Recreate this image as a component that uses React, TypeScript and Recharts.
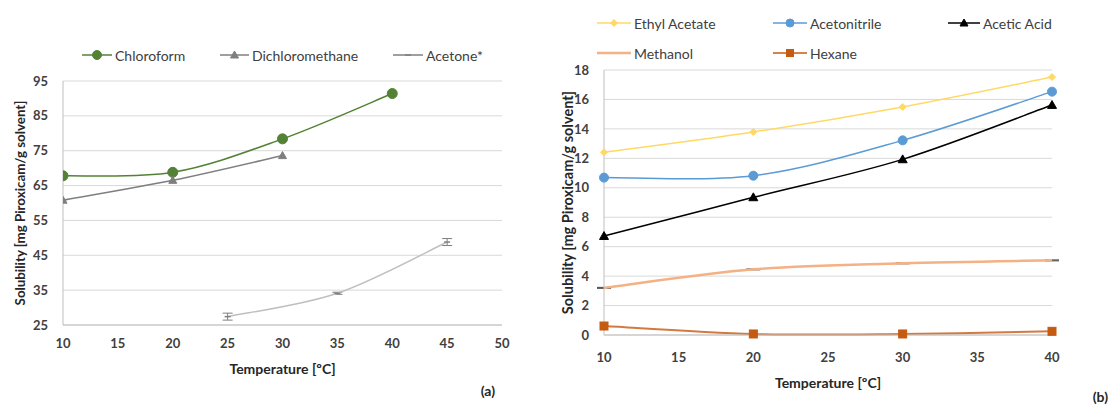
import React from 'react';
import { LineChart, Line, XAxis, YAxis, CartesianGrid, ErrorBar } from 'recharts';

// ---- (a) chlorinated solvents + acetone ----
const chloroformT = [10, 20, 30, 40];
const chloroform = [67.8, 68.8, 78.4, 91.4];
const dcmT = [10, 20, 30];
const dcm = [60.8, 66.5, 73.6];
const acetoneT = [25, 35, 45];
const acetone = [27.4, 34.1, 48.8];
const acetoneErr = [1.0, 0.3, 1.0];
const ticksA_x = [10, 15, 20, 25, 30, 35, 40, 45, 50];
const ticksA_y = [25, 35, 45, 55, 65, 75, 85, 95];

// ---- (b) other solvents ----
const tempsB = [10, 20, 30, 40];
const ethylAcetate = [12.41, 13.79, 15.49, 17.52];
const acetonitrile = [10.69, 10.82, 13.22, 16.53];
const aceticAcid = [6.72, 9.35, 11.93, 15.62];
const methanol = [3.2, 4.46, 4.87, 5.07];
const methanolErr = [0.03, 0.03, 0.03, 0.03];
const hexane = [0.61, 0.07, 0.07, 0.25];
const ticksB_x = [10, 15, 20, 25, 30, 35, 40];
const ticksB_y = [0, 2, 4, 6, 8, 10, 12, 14, 16, 18];

const FONT = 'Lato, "Open Sans", sans-serif';
const TICK = '#404040';
const GRID = '#d9d9d9';
const AXIS = '#bfbfbf';

const C = {
  chloroform: '#548235',
  dcm: '#7f7f7f',
  acetone: '#bfbfbf',
  ethyl: '#ffd966',
  acetonitrile: '#5b9bd5',
  acetic: '#000000',
  methanol: '#f4b183',
  hexane: '#c55a11',
  hexaneLine: '#d47a40',
};

const zip = (xs: number[], ys: number[], es?: number[]) =>
  xs.map((x, i) => ({ x, y: ys[i], e: es ? es[i] : 0 }));

const dataChloroform = zip(chloroformT, chloroform);
const dataDcm = zip(dcmT, dcm);
const dataAcetone = zip(acetoneT, acetone, acetoneErr);

const rowsB = tempsB.map((t, i) => ({
  t,
  ethyl: ethylAcetate[i],
  acn: acetonitrile[i],
  acetic: aceticAcid[i],
  meoh: methanol[i],
  meohErr: methanolErr[i],
  hex: hexane[i],
}));

// Smooth spline through the points (Catmull-Rom as cubic Béziers)
const smooth = (context: any) => {
  let pts: number[][] = [];
  return {
    areaStart() {},
    areaEnd() {},
    lineStart() {
      pts = [];
    },
    point(x: number, y: number) {
      pts.push([+x, +y]);
    },
    lineEnd() {
      const n = pts.length;
      if (!n) return;
      context.moveTo(pts[0][0], pts[0][1]);
      for (let i = 0; i < n - 1; i++) {
        const p0 = pts[Math.max(i - 1, 0)];
        const p1 = pts[i];
        const p2 = pts[i + 1];
        const p3 = pts[Math.min(i + 2, n - 1)];
        context.bezierCurveTo(
          p1[0] + (p2[0] - p0[0]) / 6,
          p1[1] + (p2[1] - p0[1]) / 6,
          p2[0] - (p3[0] - p1[0]) / 6,
          p2[1] - (p3[1] - p1[1]) / 6,
          p2[0],
          p2[1]
        );
      }
    },
  };
};

type Kind = 'circle' | 'triangle' | 'diamond' | 'square' | 'dash' | 'none';

function Marker({ kind, cx, cy, s, color }: { kind: Kind; cx: number; cy: number; s: number; color: string }) {
  if (cx == null || cy == null || isNaN(cx) || isNaN(cy)) return <g />;
  switch (kind) {
    case 'circle':
      return <circle cx={cx} cy={cy} r={s} fill={color} stroke={color} />;
    case 'triangle':
      return (
        <polygon
          points={`${cx},${cy - s} ${cx - s},${cy + s * 0.75} ${cx + s},${cy + s * 0.75}`}
          fill={color}
          stroke={color}
        />
      );
    case 'diamond':
      return (
        <polygon points={`${cx},${cy - s} ${cx + s},${cy} ${cx},${cy + s} ${cx - s},${cy}`} fill={color} stroke={color} />
      );
    case 'square':
      return <rect x={cx - s} y={cy - s} width={2 * s} height={2 * s} fill={color} stroke={color} />;
    case 'dash':
      return <line x1={cx - s} y1={cy} x2={cx + s} y2={cy} stroke={color} strokeWidth={1.5} />;
    default:
      return <g />;
  }
}

const dotOf = (kind: Kind, s: number, color: string) => (p: any) =>
  <Marker key={`d-${p.index}`} kind={kind} cx={p.cx} cy={p.cy} s={s} color={color} />;

function YTitle({ viewBox, x0, size }: any) {
  const cy = viewBox.y + viewBox.height / 2;
  return (
    <text
      x={x0}
      y={cy}
      transform={`rotate(-90 ${x0} ${cy})`}
      textAnchor="middle"
      dominantBaseline="central"
      fontFamily={FONT}
      fontWeight={700}
      fontSize={size}
      fill="#262626"
    >
      Solubility [mg Piroxicam/g solvent]
    </text>
  );
}

function XTitle({ viewBox, dy }: any) {
  return (
    <text
      x={viewBox.x + viewBox.width / 2}
      y={viewBox.y + dy}
      textAnchor="middle"
      dominantBaseline="central"
      fontFamily={FONT}
      fontWeight={700}
      fontSize={14}
      fill="#262626"
    >
      Temperature [ºC]
    </text>
  );
}

const tickStyle = { fontFamily: FONT, fontWeight: 700, fontSize: 13, fill: TICK };

type LegendItem = { name: string; kind: Kind; s: number; color: string; x1: number; x2: number; y: number };

const legendItems: LegendItem[] = [
  { name: 'Chloroform', kind: 'circle', s: 4.5, color: C.chloroform, x1: 82, x2: 112, y: 55 },
  { name: 'Dichloromethane', kind: 'triangle', s: 4, color: C.dcm, x1: 220, x2: 249, y: 55 },
  { name: 'Acetone*', kind: 'dash', s: 3, color: '#7f7f7f', x1: 393, x2: 423, y: 55 },
  { name: 'Ethyl Acetate', kind: 'diamond', s: 3.5, color: C.ethyl, x1: 597, x2: 631, y: 23 },
  { name: 'Acetonitrile', kind: 'circle', s: 4, color: C.acetonitrile, x1: 773, x2: 807, y: 23 },
  { name: 'Acetic Acid', kind: 'triangle', s: 4, color: C.acetic, x1: 948, x2: 980, y: 23 },
  { name: 'Methanol', kind: 'none', s: 0, color: C.methanol, x1: 597, x2: 631, y: 53 },
  { name: 'Hexane', kind: 'square', s: 3.5, color: C.hexane, x1: 773, x2: 807, y: 53 },
];

export default function App() {
  return (
    <div style={{ position: 'absolute', left: 0, top: 0, width: 1111, height: 405, background: '#fff', fontFamily: FONT }}>
      {/* (a) */}
      <div style={{ position: 'absolute', left: 0, top: 0 }}>
        <LineChart width={540} height={405} margin={{ top: 81, right: 38, bottom: 50, left: 18 }}>
          <CartesianGrid vertical={false} stroke={GRID} />
          <XAxis
            type="number"
            dataKey="x"
            domain={[10, 50]}
            ticks={ticksA_x}
            allowDataOverflow
            tickLine={false}
            axisLine={{ stroke: AXIS }}
            tick={tickStyle}
            tickMargin={8}
            height={30}
            label={<XTitle dy={43} />}
          />
          <YAxis
            type="number"
            dataKey="y"
            domain={[25, 95]}
            ticks={ticksA_y}
            allowDataOverflow
            tickLine={false}
            axisLine={{ stroke: AXIS }}
            tick={tickStyle}
            tickMargin={9}
            width={45}
            label={<YTitle x0={20} size={13.3} />}
          />
          <Line
            data={dataChloroform}
            dataKey="y"
            type={smooth as any}
            stroke={C.chloroform}
            strokeWidth={1.5}
            dot={dotOf('circle', 5, C.chloroform)}
            isAnimationActive={false}
          />
          <Line
            data={dataDcm}
            dataKey="y"
            type={smooth as any}
            stroke={C.dcm}
            strokeWidth={1.5}
            dot={dotOf('triangle', 4, C.dcm)}
            isAnimationActive={false}
          />
          <Line
            data={dataAcetone}
            dataKey="y"
            type={smooth as any}
            stroke={C.acetone}
            strokeWidth={1.5}
            dot={dotOf('dash', 3, '#7f7f7f')}
            isAnimationActive={false}
          >
            <ErrorBar dataKey="e" direction="y" width={5} stroke="#7f7f7f" strokeWidth={1} />
          </Line>
        </LineChart>
      </div>

      {/* (b) */}
      <div style={{ position: 'absolute', left: 540, top: 0 }}>
        <LineChart width={571} height={405} data={rowsB} margin={{ top: 70, right: 59, bottom: 40, left: 19 }}>
          <CartesianGrid vertical={false} stroke={GRID} />
          <XAxis
            type="number"
            dataKey="t"
            domain={[10, 40]}
            ticks={ticksB_x}
            tickLine={false}
            axisLine={{ stroke: AXIS }}
            tick={tickStyle}
            tickMargin={12}
            height={30}
            label={<XTitle dy={47} />}
          />
          <YAxis
            type="number"
            domain={[0, 18]}
            ticks={ticksB_y}
            tickLine={false}
            axisLine={{ stroke: AXIS }}
            tick={tickStyle}
            tickMargin={9}
            width={45}
            label={<YTitle x0={27} size={14.5} />}
          />
          <Line dataKey="meoh" type={smooth as any} stroke={C.methanol} strokeWidth={2.5} dot={false} isAnimationActive={false}>
            <ErrorBar dataKey="meohErr" direction="y" width={7} stroke="#595959" strokeWidth={1.2} />
          </Line>
          <Line dataKey="hex" type={smooth as any} stroke={C.hexaneLine} strokeWidth={2} dot={dotOf('square', 4, C.hexane)} isAnimationActive={false} />
          <Line dataKey="ethyl" type={smooth as any} stroke={C.ethyl} strokeWidth={1.5} dot={dotOf('diamond', 3.5, C.ethyl)} isAnimationActive={false} />
          <Line dataKey="acn" type={smooth as any} stroke={C.acetonitrile} strokeWidth={1.5} dot={dotOf('circle', 4.5, C.acetonitrile)} isAnimationActive={false} />
          <Line dataKey="acetic" type={smooth as any} stroke={C.acetic} strokeWidth={1.5} dot={dotOf('triangle', 4.5, C.acetic)} isAnimationActive={false} />
        </LineChart>
      </div>

      {/* legends and panel tags */}
      <svg width={1111} height={405} style={{ position: 'absolute', left: 0, top: 0, pointerEvents: 'none' }}>
        {legendItems.map((it) => (
          <g key={it.name}>
            <line x1={it.x1} y1={it.y} x2={it.x2} y2={it.y} stroke={it.color} strokeWidth={it.kind === 'none' ? 2.5 : 1.5} />
            <Marker kind={it.kind} cx={(it.x1 + it.x2) / 2} cy={it.y} s={it.s} color={it.color} />
            <text x={it.x2 + 3} y={it.y} dominantBaseline="central" fontFamily={FONT} fontSize={14} fill="#404040">
              {it.name}
            </text>
          </g>
        ))}
        <text x={495} y={390} textAnchor="end" dominantBaseline="central" fontFamily={FONT} fontWeight={700} fontSize={14} fill="#262626">
          (a)
        </text>
        <text x={1108} y={396} textAnchor="end" dominantBaseline="central" fontFamily={FONT} fontWeight={700} fontSize={14} fill="#262626">
          (b)
        </text>
      </svg>
    </div>
  );
}
